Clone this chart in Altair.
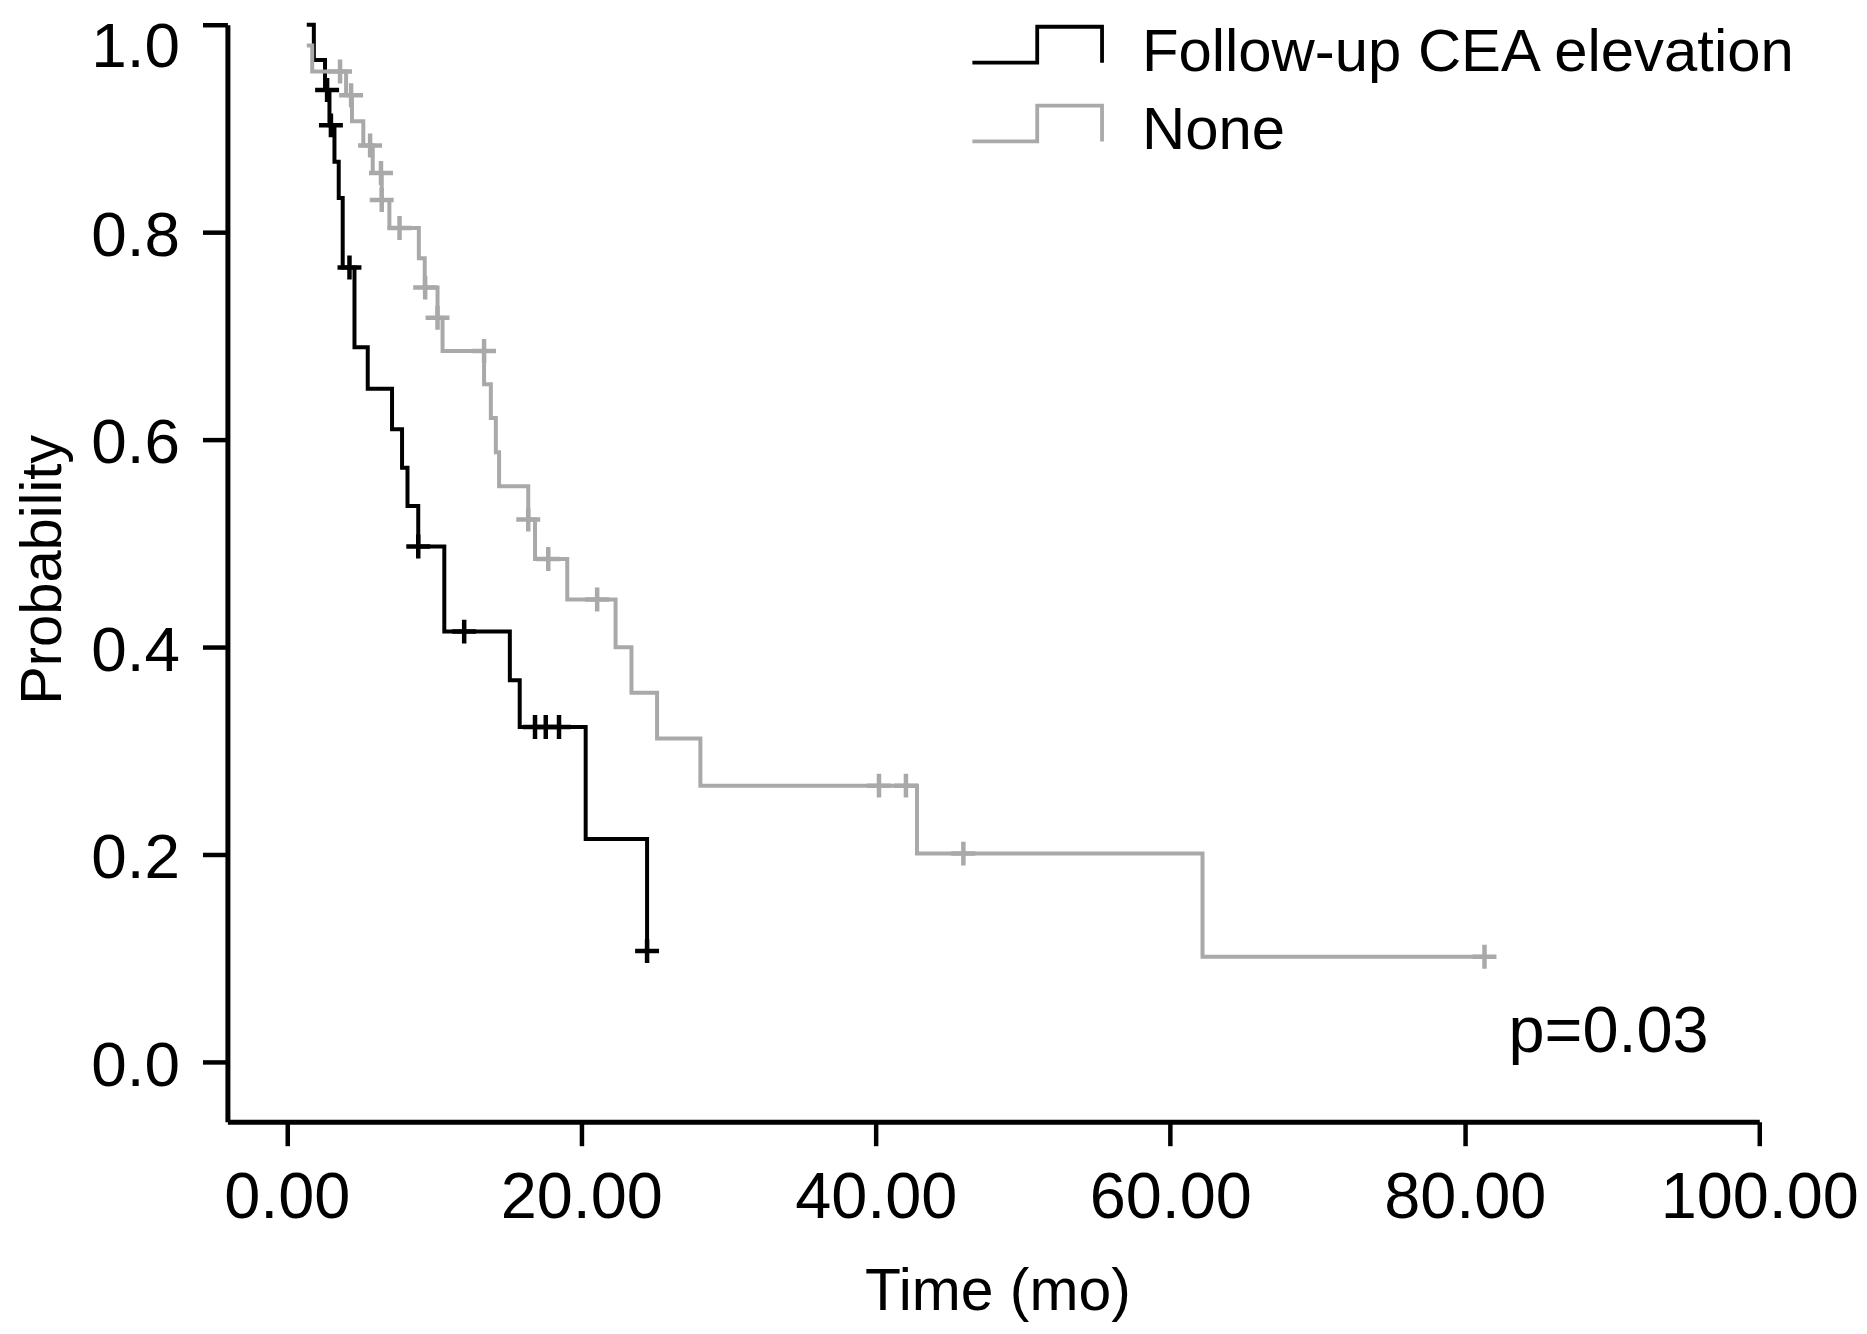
import altair as alt
import pandas as pd

GROUPS = ["Follow-up CEA elevation", "None"]
COLORS = ["#000000", "#a9a9a9"]

# Kaplan-Meier steps: (time, survival after step)
cea_time = [1.36, 1.84, 2.6, 2.9, 3.24, 3.53, 3.8, 4.6, 5.5, 7.15, 7.83, 8.2, 8.93,
            10.7, 15.15, 15.82, 20.3, 24.47]
cea_surv = [1.0, 0.966, 0.937, 0.903, 0.868, 0.833, 0.766, 0.689, 0.649, 0.610, 0.573,
            0.536, 0.497, 0.415, 0.368, 0.323, 0.215, 0.107]
cea_cens_time = [2.74, 3.0, 4.26, 8.93, 12.05, 16.86, 17.59, 18.49, 24.47]
cea_cens_surv = [0.937, 0.903, 0.766, 0.497, 0.415, 0.323, 0.323, 0.323, 0.107]

none_time = [1.36, 1.73, 4.03, 4.43, 5.2, 5.84, 6.45, 6.97, 8.97, 9.37, 10.24, 10.58,
             13.4, 13.86, 14.2, 14.42, 16.4, 16.86, 19.05, 22.33, 23.41, 25.15, 28.09,
             42.8, 62.19, 81.34]
none_surv = [0.980, 0.955, 0.932, 0.907, 0.8835, 0.857, 0.831, 0.804, 0.775, 0.7466,
             0.7175, 0.6855, 0.6535, 0.621, 0.588, 0.555, 0.523, 0.485, 0.446, 0.400,
             0.356, 0.312, 0.2665, 0.201, 0.1015, 0.1015]
none_cens_time = [3.62, 4.37, 5.66, 6.4, 6.45, 7.66, 9.4, 10.24, 13.4, 16.4, 17.76,
                  21.08, 40.22, 42.05, 45.95, 81.34]
none_cens_surv = [0.955, 0.932, 0.8835, 0.857, 0.831, 0.804, 0.7466, 0.7175, 0.6855,
                  0.523, 0.485, 0.446, 0.2665, 0.2665, 0.201, 0.1015]

x_ticks = [0, 20, 40, 60, 80, 100]
y_ticks = [0.0, 0.2, 0.4, 0.6, 0.8, 1.0]

p_label = ["p=0.03"]
p_x = [82.97]
p_y = [0.0096]

FONT = "Liberation Sans"

steps = pd.DataFrame({
    "t": cea_time + none_time,
    "s": cea_surv + none_surv,
    "group": [GROUPS[0]] * len(cea_time) + [GROUPS[1]] * len(none_time),
    "order": list(range(len(cea_time))) + list(range(len(none_time))),
})
cens = pd.DataFrame({
    "t": cea_cens_time + none_cens_time,
    "s": cea_cens_surv + none_cens_surv,
    "group": [GROUPS[0]] * len(cea_cens_time) + [GROUPS[1]] * len(none_cens_time),
})
ptext = pd.DataFrame({"t": p_x, "s": p_y, "label": p_label})

x_scale = alt.Scale(domain=[-4.03, 100], nice=False, zero=False)
y_scale = alt.Scale(domain=[-0.0575, 1.0], nice=False, zero=False)
color_scale = alt.Scale(domain=GROUPS, range=COLORS)

common_axis = dict(
    grid=False, domainColor="black", domainWidth=5, tickColor="black", tickWidth=4.5,
    labelFont=FONT, labelColor="black", labelFlush=False, labelOverlap=False,
    labelBound=False, labelLimit=1000, titleFont=FONT, titleColor="black",
    titleFontWeight="normal",
)

x_enc = alt.X("t:Q", scale=x_scale, axis=alt.Axis(
    values=x_ticks, format=".2f", title="Time (mo)", tickSize=24, labelFontSize=65,
    labelPadding=21, titleFontSize=59, titleX=772, titleY=188,
    titleBaseline="alphabetic", **common_axis))
y_enc = alt.Y("s:Q", scale=y_scale, axis=alt.Axis(
    values=y_ticks, format=".1f", title="Probability", tickSize=25, labelFontSize=64,
    labelPadding=23,
    labelOffset={"condition": {"test": "datum.value == 1", "value": 23}, "value": 4},
    titleFontSize=58, titleX=-167, titleY=546,
    titleBaseline="alphabetic", titleAngle=270, **common_axis))

legend = alt.Legend(
    title=None, orient="none", legendX=782, legendY=-2, direction="vertical",
    symbolType="M-3.611,0.556L0,0.556L0,-1.444L3.611,-1.444L3.611,0.556",
    symbolSize=1296, symbolStrokeWidth=3.8, symbolFillColor="transparent",
    labelFont=FONT, labelFontSize=60, labelColor="black", labelOffset=75,
    labelLimit=1000, rowPadding=15, padding=0,
)

lines = alt.Chart(steps).mark_line(interpolate="step-after", strokeWidth=4).encode(
    x=x_enc, y=y_enc,
    color=alt.Color("group:N", scale=color_scale, legend=legend),
    order="order:Q",
)

marks = alt.Chart(cens).mark_point(
    shape="M-1,0L1,0M0,-1L0,1", filled=False, size=576, strokeWidth=4.5, opacity=1
).encode(
    x=x_enc, y=y_enc,
    color=alt.Color("group:N", scale=color_scale, legend=None),
)

txt = alt.Chart(ptext).mark_text(
    align="left", baseline="alphabetic", font=FONT, fontSize=65, color="black"
).encode(x=x_enc, y=y_enc, text="label:N")

chart = alt.layer(lines, marks, txt).properties(
    width=1536, height=1100,
    background="white",
    autosize=alt.AutoSizeParams(type="none"),
    padding={"left": 220, "top": 15, "right": 100, "bottom": 200},
).configure_view(strokeWidth=0, stroke="transparent")

chart.save("out.html", embed_options={"renderer": "svg", "actions": False})
